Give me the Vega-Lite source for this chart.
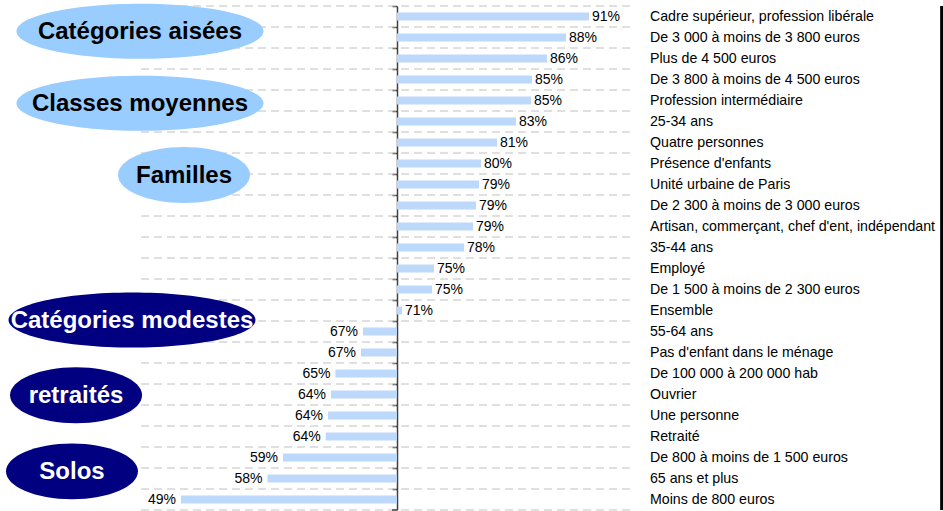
{
  "$schema": "https://vega.github.io/schema/vega-lite/v6.json",
  "width": 943,
  "height": 504,
  "autosize": {"type": "none"},
  "padding": {"top": 6, "bottom": 1, "left": 0, "right": 0},
  "background": "white",
  "config": {"view": {"stroke": null}},
  "datasets": {
    "lignes": [
      {"cat": "Cadre supérieur, profession libérale", "valeur": 0.9074},
      {"cat": "De 3 000 à moins de 3 800 euros", "valeur": 0.8837},
      {"cat": "Plus de 4 500 euros", "valeur": 0.8641},
      {"cat": "De 3 800 à moins de 4 500 euros", "valeur": 0.8487},
      {"cat": "Profession intermédiaire", "valeur": 0.8476},
      {"cat": "25-34 ans", "valeur": 0.8322},
      {"cat": "Quatre personnes", "valeur": 0.8126},
      {"cat": "Présence d'enfants", "valeur": 0.7961},
      {"cat": "Unité urbaine de Paris", "valeur": 0.794},
      {"cat": "De 2 300 à moins de 3 000 euros", "valeur": 0.7909},
      {"cat": "Artisan, commerçant, chef d'ent, indépendant", "valeur": 0.7878},
      {"cat": "35-44 ans", "valeur": 0.7786},
      {"cat": "Employé", "valeur": 0.7476},
      {"cat": "De 1 500 à moins de 2 300 euros", "valeur": 0.7456},
      {"cat": "Ensemble", "valeur": 0.7147},
      {"cat": "55-64 ans", "valeur": 0.6744},
      {"cat": "Pas d'enfant dans le ménage", "valeur": 0.6724},
      {"cat": "De 100 000 à 200 000 hab", "valeur": 0.646},
      {"cat": "Ouvrier", "valeur": 0.6415},
      {"cat": "Une personne", "valeur": 0.6384},
      {"cat": "Retraité", "valeur": 0.636},
      {"cat": "De 800 à moins de 1 500 euros", "valeur": 0.592},
      {"cat": "65 ans et plus", "valeur": 0.576},
      {"cat": "Moins de 800 euros", "valeur": 0.4868}
    ],
    "groupes": [
      {"nom": "Catégories aisées", "ancre": 0.4445, "rang": 1.2, "ton": "clair"},
      {"nom": "Classes moyennes", "ancre": 0.4445, "rang": 4.63, "ton": "clair"},
      {"nom": "Familles", "ancre": 0.4899, "rang": 8.05, "ton": "clair"},
      {"nom": "Catégories modestes", "ancre": 0.4363, "rang": 14.95, "ton": "foncé"},
      {"nom": "retraités", "ancre": 0.3786, "rang": 18.54, "ton": "foncé"},
      {"nom": "Solos", "ancre": 0.3744, "rang": 22.16, "ton": "foncé"}
    ]
  },
  "layer": [
    {
      "data": {"name": "lignes"},
      "layer": [
        {
          "mark": {"type": "rule", "color": "#c0c0c0", "strokeDash": [8, 5], "strokeWidth": 1},
          "encoding": {
            "y": {"field": "cat", "type": "nominal", "sort": null, "bandPosition": 0,
                  "scale": {"paddingInner": 0, "paddingOuter": 0},
                  "axis": {"orient": "left", "offset": -397, "labels": false, "title": null, "grid": false,
                           "domainColor": "#404040", "domainWidth": 1.5, "tickColor": "#404040",
                           "tickWidth": 1.5, "tickSize": 5, "bandPosition": 0}},
            "x": {"datum": 0.4456, "type": "quantitative", "scale": {"domain": [0.3002, 1.2724], "nice": false, "zero": false}, "axis": null},
            "x2": {"datum": 0.9549}
          }
        },
        {
          "transform": [{"filter": "datum.cat == 'Moins de 800 euros'"}],
          "mark": {"type": "rule", "color": "#c0c0c0", "strokeDash": [8, 5], "strokeWidth": 1},
          "encoding": {
            "y": {"field": "cat", "type": "nominal", "sort": null, "bandPosition": 1},
            "x": {"datum": 0.4456, "type": "quantitative", "scale": {"domain": [0.3002, 1.2724], "nice": false, "zero": false}, "axis": null},
            "x2": {"datum": 0.9549}
          }
        },
        {
          "transform": [{"filter": "datum.cat == 'Moins de 800 euros'"}],
          "mark": {"type": "rule", "color": "#404040", "strokeWidth": 1.5},
          "encoding": {
            "y": {"field": "cat", "type": "nominal", "sort": null, "bandPosition": 1},
            "x": {"datum": 0.70435, "type": "quantitative", "scale": {"domain": [0.3002, 1.2724], "nice": false, "zero": false}, "axis": null},
            "x2": {"datum": 0.7095}
          }
        },
        {
          "mark": {"type": "bar", "color": "#bcd8fa", "size": 8},
          "encoding": {
            "y": {"field": "cat", "type": "nominal", "sort": null},
            "x": {"field": "valeur", "type": "quantitative", "scale": {"domain": [0.3002, 1.2724], "nice": false, "zero": false}, "axis": null},
            "x2": {"datum": 0.7095}
          }
        },
        {
          "transform": [{"filter": "datum.valeur > 0.7095"}],
          "mark": {"type": "text", "align": "left", "baseline": "middle", "dx": 3, "fontSize": 14, "color": "#000000",
                   "font": "Liberation Sans, Arial, sans-serif"},
          "encoding": {
            "y": {"field": "cat", "type": "nominal", "sort": null},
            "x": {"field": "valeur", "type": "quantitative", "scale": {"domain": [0.3002, 1.2724], "nice": false, "zero": false}, "axis": null},
            "text": {"field": "valeur", "type": "quantitative", "format": ".0%"}
          }
        },
        {
          "transform": [{"filter": "datum.valeur <= 0.7095"}],
          "mark": {"type": "text", "align": "right", "baseline": "middle", "dx": -5, "fontSize": 14, "color": "#000000",
                   "font": "Liberation Sans, Arial, sans-serif"},
          "encoding": {
            "y": {"field": "cat", "type": "nominal", "sort": null},
            "x": {"field": "valeur", "type": "quantitative", "scale": {"domain": [0.3002, 1.2724], "nice": false, "zero": false}, "axis": null},
            "text": {"field": "valeur", "type": "quantitative", "format": ".0%"}
          }
        },
        {
          "mark": {"type": "text", "align": "left", "baseline": "middle", "fontSize": 14.2, "color": "#000000",
                   "font": "Liberation Sans, Arial, sans-serif"},
          "encoding": {
            "y": {"field": "cat", "type": "nominal", "sort": null},
            "x": {"datum": 0.9703, "type": "quantitative", "scale": {"domain": [0.3002, 1.2724], "nice": false, "zero": false}, "axis": null},
            "text": {"field": "cat", "type": "nominal"}
          }
        },
        {
          "mark": {"type": "rule", "color": "#000000", "strokeWidth": 2},
          "encoding": {
            "x": {"datum": 1.2713, "type": "quantitative", "scale": {"domain": [0.3002, 1.2724], "nice": false, "zero": false}, "axis": null}
          }
        }
      ]
    },
    {
      "data": {"name": "groupes"},
      "layer": [
        {
          "transform": [{"filter": {"field": "nom", "oneOf": ["Catégories aisées", "Classes moyennes", "Catégories modestes"]}}],
          "mark": {"type": "point", "shape": "M -1 0 A 1 0.223 0 1 1 1 0 A 1 0.223 0 1 1 -1 0 Z", "size": 61009,
                   "filled": true, "opacity": 1, "strokeWidth": 0},
          "encoding": {
            "x": {"field": "ancre", "type": "quantitative", "scale": {"domain": [0.3002, 1.2724], "nice": false, "zero": false}, "axis": null},
            "y": {"field": "rang", "type": "quantitative", "scale": {"domain": [0, 24], "reverse": true, "nice": false, "zero": false}, "axis": null},
            "color": {"condition": {"test": "datum.ton == 'foncé'", "value": "#000080"}, "value": "#99ccff"}
          }
        },
        {
          "transform": [{"filter": {"field": "nom", "oneOf": ["Familles", "retraités", "Solos"]}}],
          "mark": {"type": "point", "shape": "M -1 0 A 1 0.424 0 1 1 1 0 A 1 0.424 0 1 1 -1 0 Z", "size": 17424,
                   "filled": true, "opacity": 1, "strokeWidth": 0},
          "encoding": {
            "x": {"field": "ancre", "type": "quantitative", "scale": {"domain": [0.3002, 1.2724], "nice": false, "zero": false}, "axis": null},
            "y": {"field": "rang", "type": "quantitative", "scale": {"domain": [0, 24], "reverse": true, "nice": false, "zero": false}, "axis": null},
            "color": {"condition": {"test": "datum.ton == 'foncé'", "value": "#000080"}, "value": "#99ccff"}
          }
        },
        {
          "mark": {"type": "text", "align": "center", "baseline": "middle", "dy": 1, "fontSize": 24, "fontWeight": "bold",
                   "font": "Liberation Sans, Arial, sans-serif"},
          "encoding": {
            "x": {"field": "ancre", "type": "quantitative", "scale": {"domain": [0.3002, 1.2724], "nice": false, "zero": false}, "axis": null},
            "y": {"field": "rang", "type": "quantitative", "scale": {"domain": [0, 24], "reverse": true, "nice": false, "zero": false}, "axis": null},
            "text": {"field": "nom", "type": "nominal"},
            "color": {"condition": {"test": "datum.ton == 'foncé'", "value": "#ffffff"}, "value": "#000000"}
          }
        }
      ]
    }
  ],
  "resolve": {"scale": {"y": "independent"}}
}
